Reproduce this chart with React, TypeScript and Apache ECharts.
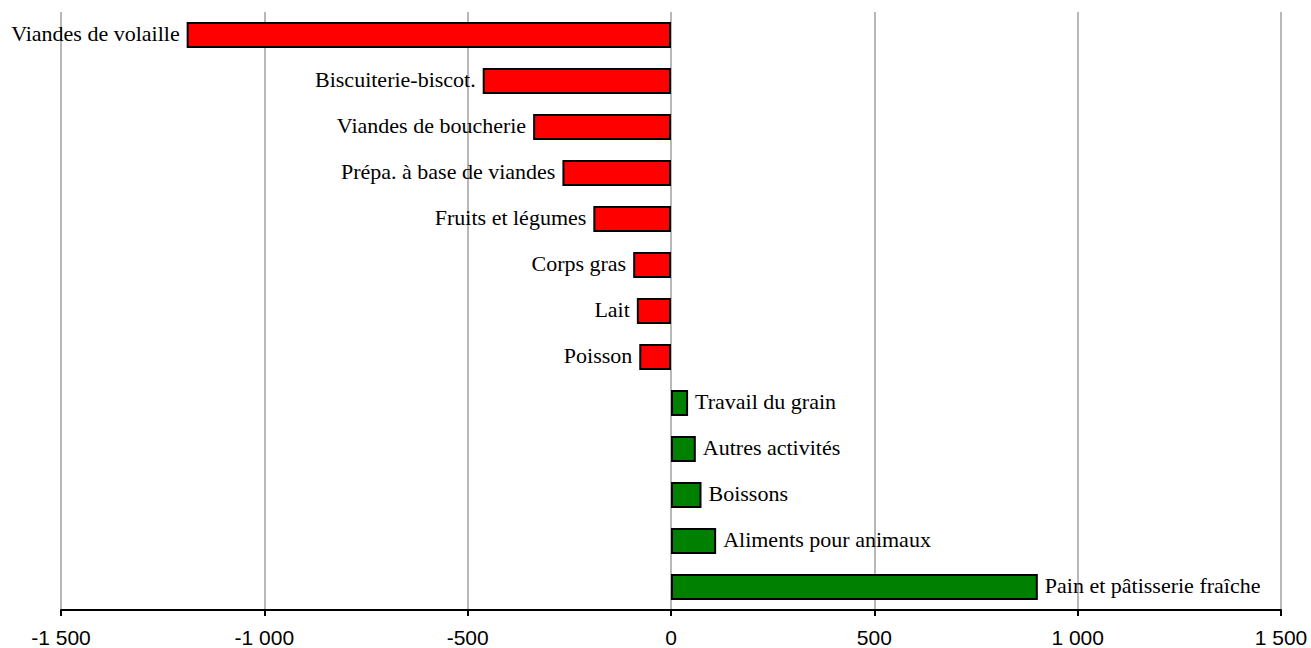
import React, { useEffect, useRef } from "react";
import * as echarts from "echarts";

const categories = [
  "Viandes de volaille",
  "Biscuiterie-biscot.",
  "Viandes de boucherie",
  "Prépa. à base de viandes",
  "Fruits et légumes",
  "Corps gras",
  "Lait",
  "Poisson",
  "Travail du grain",
  "Autres activités",
  "Boissons",
  "Aliments pour animaux",
  "Pain et pâtisserie fraîche",
];

const values = [-1191, -463, -339, -267, -191, -93, -84, -78, 42, 61, 75, 111, 902];

const xTicks = { min: -1500, max: 1500, interval: 500 };

function fmt(v: number): string {
  const s = Math.abs(v)
    .toString()
    .replace(/\B(?=(\d{3})+(?!\d))/g, " ");
  return (v < 0 ? "-" : "") + s;
}

export default function App() {
  const ref = useRef<HTMLDivElement>(null);
  useEffect(() => {
    if (!ref.current) return;
    const chart = echarts.init(ref.current, null, { renderer: "svg" });
    chart.setOption({
      animation: false,
      backgroundColor: "#ffffff",
      grid: { left: 61, right: 30, top: 12, bottom: 38, containLabel: false },
      xAxis: {
        type: "value",
        min: xTicks.min,
        max: xTicks.max,
        interval: xTicks.interval,
        axisLine: { show: true, onZero: false, lineStyle: { color: "#000", width: 2 } },
        axisTick: { show: true, inside: false, length: 6, lineStyle: { color: "#000", width: 2 } },
        axisLabel: {
          color: "#000",
          fontFamily: "Liberation Sans",
          fontSize: 21,
          margin: 17,
          formatter: (v: number) => fmt(v),
        },
        splitLine: { show: true, lineStyle: { color: "#a0a0a0", width: 1.5 } },
      },
      yAxis: {
        type: "category",
        inverse: true,
        data: categories,
        axisLine: { show: false },
        axisTick: { show: false },
        axisLabel: { show: false },
        splitLine: { show: false },
      },
      series: [
        {
          type: "bar",
          barWidth: 26,
          data: values.map((v) => ({
            value: v,
            itemStyle: { color: v < 0 ? "#ff0000" : "#008000" },
            label: { position: v < 0 ? "left" : "right" },
          })),
          itemStyle: { borderColor: "#000", borderWidth: 2 },
          label: {
            show: true,
            formatter: "{b}",
            distance: 7,
            offset: [0, -2],
            color: "#000",
            fontFamily: "Liberation Serif",
            fontSize: 22,
          },
        },
      ],
    });
    return () => chart.dispose();
  }, []);
  return (
    <div
      ref={ref}
      style={{ position: "fixed", left: 0, top: 0, width: 1311, height: 648 }}
    />
  );
}
